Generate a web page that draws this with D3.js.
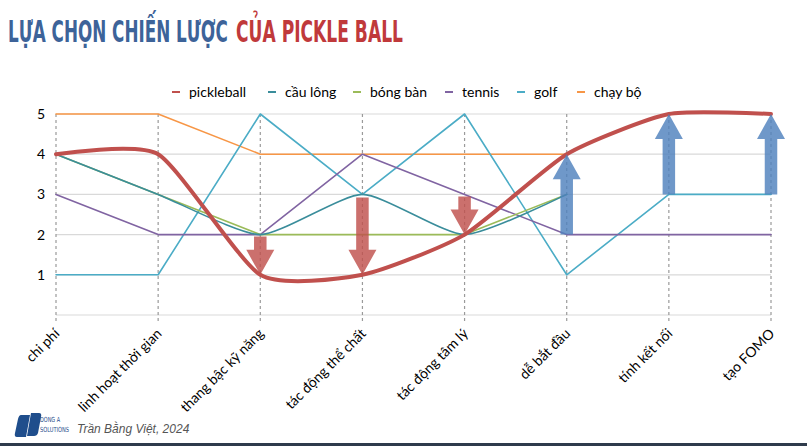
<!DOCTYPE html>
<html><head><meta charset="utf-8">
<script src="https://cdn.jsdelivr.net/npm/d3@7"></script>
<style>
html,body{margin:0;padding:0;background:#fff;}
svg{display:block;}
</style></head>
<body>
<svg id="chart" width="807" height="446"></svg>
<script>
const categories = ["chi phí","linh hoạt thời gian","thang bậc kỹ năng","tác động thể chất","tác động tâm lý","dễ bắt đầu","tính kết nối","tạo FOMO"];
const seriesNames = ["pickleball","cầu lông","bóng bàn","tennis","golf","chạy bộ"];
const seriesColors = ["#C0504D","#3A8D9B","#9BBB59","#8064A2","#4BACC6","#F79646"];
const pickleball = [4,4,1,1,2,4,5,5];
const cauLong   = [4,3,2,3,2,3];
const bongBan   = [4,3,2,2,2,3];
const tennis    = [3,2,2,4,3,2,2,2];
const golf      = [1,1,5,3,5,1,3,3];
const chayBo    = [5,5,4,4,4,4];
const seriesValues = [pickleball,cauLong,bongBan,tennis,golf,chayBo];
const seriesSmooth = [true,true,false,false,false,false];
const yTicks = [1,2,3,4,5];
// arrows: category index, from value, to value
const arrowCat  = [2,3,4,5,6,7];
const arrowFrom = [1.95,2.92,2.95,2,3,3];
const arrowTo   = [1,1,2,4,5,5];

const svg = d3.select("#chart");
const x = d3.scalePoint().domain(categories).range([56,771]).padding(0);
const y = d3.scaleLinear().domain([0,5]).range([315,114]);

// title (condensed via horizontal scale fitted to target width)
function titlePart(txt, x0, w, color){
  const g = svg.append("g");
  const t = g.append("text").attr("x",0).attr("y",0)
    .style("font-family","'DejaVu Sans Condensed','DejaVu Sans',sans-serif")
    .style("font-weight","bold").style("font-size","30px").attr("fill",color).text(txt);
  const nat = t.node().getComputedTextLength();
  g.attr("transform",`translate(${x0},42) scale(${w/nat},1)`);
}
titlePart("LỰA CHỌN CHIẾN LƯỢC", 8, 220, "#3D6399");
titlePart("CỦA PICKLE BALL", 236, 167, "#C0393B");

// horizontal gridlines
svg.append("g").selectAll("line").data([0,...yTicks]).join("line")
  .attr("x1",x.range()[0]).attr("x2",x.range()[1])
  .attr("y1",d=>y(d)).attr("y2",d=>y(d))
  .attr("stroke","#D9D9D9").attr("stroke-width",1.2);

// vertical dashed lines
svg.append("g").selectAll("line").data(categories).join("line")
  .attr("x1",d=>x(d)).attr("x2",d=>x(d))
  .attr("y1",y(5)).attr("y2",y(0)+6)
  .attr("stroke","#9A9A9A").attr("stroke-width",1.2).attr("stroke-dasharray","3,3");

// y labels
const yAxis = d3.axisLeft(y).tickValues(yTicks).tickFormat(d3.format("d")).tickSize(0).tickPadding(0);
const gy = svg.append("g").attr("transform","translate(45,0)").call(yAxis);
gy.select(".domain").remove();
gy.selectAll("text").style("font-family","Lato,sans-serif").style("font-size","14px").attr("fill","#000").attr("x",0);

// x labels
svg.append("g").selectAll("text").data(categories).join("text")
  .attr("transform",d=>`translate(${x(d)+1},${y(0)+16}) rotate(-45)`)
  .attr("text-anchor","end").attr("dy","0.35em")
  .style("font-family","Lato,sans-serif").style("font-size","14px").attr("fill","#000")
  .text(d=>d);

// series lines (draw non-pickleball first)
const order = [5,4,3,2,1,0];
order.forEach(i=>{
  const vals = seriesValues[i];
  const line = d3.line().x((d,j)=>x(categories[j])).y(d=>y(d))
    .curve(seriesSmooth[i] ? d3.curveCardinal.tension(0.4) : d3.curveLinear);
  svg.append("path").datum(vals).attr("d",line)
    .attr("fill","none").attr("stroke",seriesColors[i])
    .attr("stroke-width", i===0 ? 4 : 1.6)
    .attr("stroke-linejoin","round").attr("stroke-linecap","round");
});

// arrows
const shaftW = 12.5, headW = 28, headL = 25;
arrowCat.forEach((ci,k)=>{
  const cx = x(categories[ci]);
  const y0 = y(arrowFrom[k]), y1 = y(arrowTo[k]);
  const dir = y1 > y0 ? 1 : -1; // 1 = down
  const hb = y1 - dir*headL;
  const p = [
    [cx-shaftW/2,y0],[cx+shaftW/2,y0],[cx+shaftW/2,hb],[cx+headW/2,hb],
    [cx,y1],[cx-headW/2,hb],[cx-shaftW/2,hb]
  ];
  svg.append("path").attr("d",d3.line()(p)+"Z")
    .attr("fill", dir===1 ? "#C0504D" : "#4F81BD")
    .attr("fill-opacity", 0.82);
});

// legend
const legX = [172,268,353,445,517,577];
const lg = svg.append("g");
seriesNames.forEach((n,i)=>{
  lg.append("line").attr("x1",legX[i]).attr("x2",legX[i]+8).attr("y1",92).attr("y2",92)
    .attr("stroke",seriesColors[i]).attr("stroke-width",2);
  lg.append("text").attr("x",legX[i]+17).attr("y",92).attr("dy","0.35em")
    .style("font-family","Lato,sans-serif").style("font-size","14px").attr("fill","#000").text(n);
});

// footer logo
const logo = svg.append("g").attr("fill","#1F4E8C");
logo.append("path").attr("d","M21,415 L30,415 L26,437 L17,437 Q14,437 15,433 L18,419 Q19,415 21,415 Z");
logo.append("path").attr("d","M31,413 L39,413 Q42,413 41,417 L38,433 Q37,436 34,436 L27,436 Z");
svg.append("text").attr("x",40).attr("y",422).style("font-family","'DejaVu Sans Condensed',sans-serif")
  .style("font-size","7px").attr("fill","#1F4E8C").attr("textLength",20).attr("lengthAdjust","spacingAndGlyphs").text("DONG A");
svg.append("text").attr("x",40).attr("y",432).style("font-family","'DejaVu Sans Condensed',sans-serif")
  .style("font-size","7px").attr("fill","#1F4E8C").attr("textLength",29).attr("lengthAdjust","spacingAndGlyphs").text("SOLUTIONS");
svg.append("text").attr("x",77).attr("y",433).style("font-family","'Liberation Sans',Arial,sans-serif")
  .style("font-size","12px").style("font-style","italic").attr("fill","#555").text("Trần Bằng Việt, 2024");
svg.append("rect").attr("x",0).attr("y",443).attr("width",807).attr("height",3).attr("fill","#2F3B4C");
</script>
</body></html>
